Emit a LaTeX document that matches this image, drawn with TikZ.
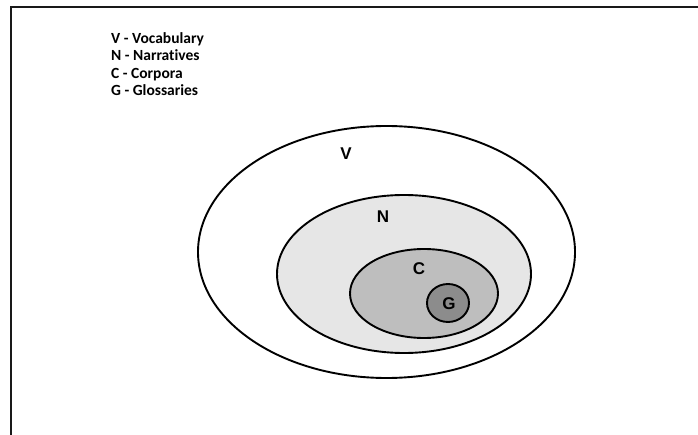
\documentclass[tikz,border=0pt]{standalone}
\usepackage{fontspec}
\setmainfont{Carlito}[Ligatures=NoCommon]
\newfontfamily\lblfont{Liberation Sans}
\usetikzlibrary{shapes.geometric}

\definecolor{narrgray}{RGB}{230,230,230}
\definecolor{corpgray}{RGB}{190,190,190}
\definecolor{glossgray}{RGB}{140,140,140}

\begin{document}
\begin{tikzpicture}[x=1pt, y=-1pt,
    every node/.style={font=\bfseries},
    set/.style={ellipse, draw, line width=1.9pt, inner sep=0pt},
    setlbl/.style={font=\lblfont\bfseries\fontsize{17}{20}\selectfont, inner sep=0pt},
    frameline/.style={line width=2pt, draw=black!90}
]
\useasboundingbox (0,0) rectangle (698,435);

% frame (only top and left edges show)
\coordinate (ftop) at (698,7.5);
\coordinate (fcorner) at (11,7.5);
\coordinate (fbot) at (11,435);
\draw[frameline] (ftop) -- (fcorner) -- (fbot);

% legend
\node[anchor=north west, align=left, inner sep=0pt,
      font=\bfseries\fontsize{15.5}{17.5}\selectfont] (legend) at (111,32)
    {V - Vocabulary\\N - Narratives\\C - Corpora\\G - Glossaries};

% nested sets
\node[set, fill=white, minimum width=377pt, minimum height=252pt] (vocab) at (386.5,252) {};
\node[set, fill=narrgray, minimum width=254pt, minimum height=158pt] (narr) at (404,274) {};
\node[set, fill=corpgray, minimum width=148pt, minimum height=89pt] (corp) at (424,293.5) {};
\node[set, fill=glossgray, minimum width=42pt, minimum height=38pt] (gloss) at (448,303) {};

\node[setlbl] (vlbl) at (346,154) {V};
\node[setlbl] (nlbl) at (383,217) {N};
\node[setlbl] (clbl) at (419,269) {C};
\node[setlbl] (glbl) at (449,304) {G};
\end{tikzpicture}
\end{document}
